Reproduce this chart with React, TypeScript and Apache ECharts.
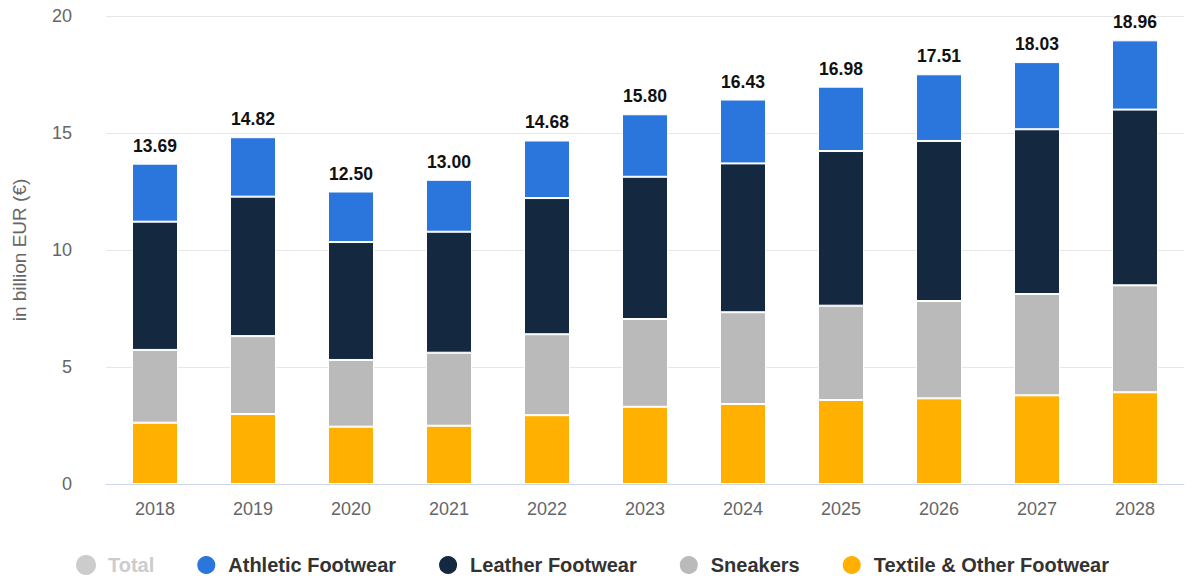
import React, { useEffect, useRef } from "react";
import * as echarts from "echarts";

const years = ["2018", "2019", "2020", "2021", "2022", "2023", "2024", "2025", "2026", "2027", "2028"];
const totals = [13.69, 14.82, 12.5, 13.0, 14.68, 15.8, 16.43, 16.98, 17.51, 18.03, 18.96];
const athletic = [2.48, 2.54, 2.16, 2.22, 2.46, 2.67, 2.73, 2.75, 2.85, 2.87, 2.96];
const leather = [5.48, 5.96, 5.04, 5.17, 5.82, 6.08, 6.36, 6.61, 6.84, 7.04, 7.51];
const sneakers = [3.11, 3.33, 2.85, 3.12, 3.46, 3.75, 3.92, 4.03, 4.16, 4.33, 4.57];
const textile = [2.62, 2.99, 2.45, 2.49, 2.94, 3.3, 3.42, 3.59, 3.66, 3.79, 3.92];
const yTicks = { min: 0, max: 20, interval: 5 };

const FONT = "'Liberation Sans', Arial, Helvetica, sans-serif";

export default function App() {
  const ref = useRef<HTMLDivElement>(null);
  useEffect(() => {
    if (!ref.current) return;
    const chart = echarts.init(ref.current, undefined, { renderer: "svg" });
    const barCommon = {
      type: "bar" as const,
      stack: "s",
      barWidth: 46,
      itemStyle: { borderColor: "#ffffff", borderWidth: 1 },
    };
    chart.setOption({
      animation: false,
      textStyle: { fontFamily: FONT },
      grid: { left: 106, right: 8, top: 16, bottom: 92 },
      legend: {
        top: 549,
        left: 71,
        icon: "circle",
        itemWidth: 20,
        itemHeight: 20,
        itemGap: 41,
        data: ["Total", "Athletic Footwear", "Leather Footwear", "Sneakers", "Textile & Other Footwear"],
        selected: { Total: false },
        inactiveColor: "#cccccc",
        textStyle: {
          fontFamily: FONT,
          fontSize: 20,
          fontWeight: "bold",
          color: "#333333",
          padding: [0, 0, 0, 7],
        },
      },
      xAxis: {
        type: "category",
        data: years,
        axisLine: { lineStyle: { color: "#ccd6eb" } },
        axisTick: { alignWithLabel: true, length: 10, lineStyle: { color: "#ccd6eb" } },
        axisLabel: { color: "#666666", fontSize: 18, margin: 16, fontFamily: FONT },
      },
      yAxis: {
        type: "value",
        min: yTicks.min,
        max: yTicks.max,
        interval: yTicks.interval,
        name: "in billion EUR (€)",
        nameLocation: "middle",
        nameGap: 77,
        nameTextStyle: { color: "#666666", fontSize: 19, fontFamily: FONT },
        axisLabel: { color: "#666666", fontSize: 18, margin: 34, fontFamily: FONT },
        splitLine: { lineStyle: { color: "#e6e6e6" } },
      },
      series: [
        {
          name: "Total",
          type: "line",
          data: totals,
          color: "#cccccc",
          symbol: "none",
          lineStyle: { opacity: 0 },
        },
        { ...barCommon, name: "Textile & Other Footwear", data: textile, color: "#ffb000" },
        { ...barCommon, name: "Sneakers", data: sneakers, color: "#bababa" },
        { ...barCommon, name: "Leather Footwear", data: leather, color: "#14283f" },
        {
          ...barCommon,
          name: "Athletic Footwear",
          data: athletic,
          color: "#2a76dd",
          label: {
            show: true,
            position: "top",
            distance: 9,
            fontFamily: FONT,
            fontSize: 17.5,
            fontWeight: "bold",
            color: "#111111",
            formatter: (p: any) => totals[p.dataIndex].toFixed(2),
          },
        },
      ],
    });
    return () => chart.dispose();
  }, []);
  return (
    <div
      ref={ref}
      style={{ position: "fixed", left: 0, top: 0, width: 1192, height: 576, background: "#fff" }}
    />
  );
}
